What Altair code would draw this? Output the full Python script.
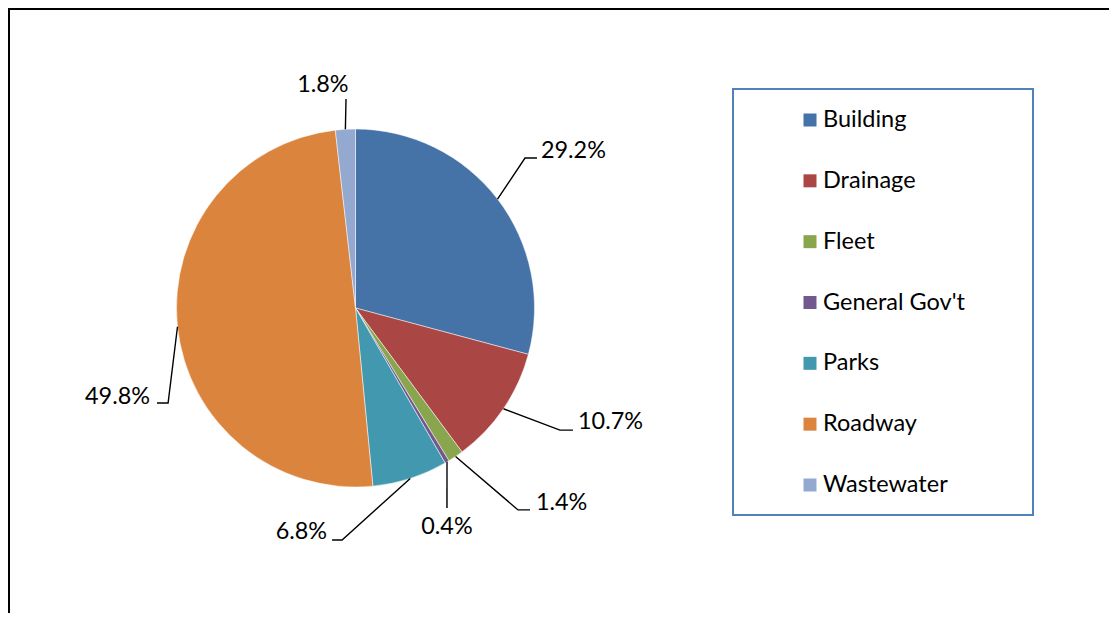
import numpy as np
import pandas as pd
import altair as alt

# ---------------- data ----------------
categories = ["Building", "Drainage", "Fleet", "General Gov't", "Parks", "Roadway", "Wastewater"]
shares = [29.2, 10.7, 1.4, 0.4, 6.8, 49.8, 1.8]
colors = ["#4572A7", "#AA4643", "#89A54E", "#71588F", "#4198AF", "#DB843D", "#93A9CF"]

# ---------------- layout ----------------
W, H = 1101, 605
CX, CY, R = 347.5, 300.0, 179.0          # pie centre / radius (px)
FONT = "Lato"
LABEL_SIZE = 23.4
LEGEND_SIZE = 23.5

# label placement in pie-radius units (u to the right, v upward from centre)
elbow_u = [0.947, 1.142, 0.908, 0.511, -0.075, -1.047, -0.053]
elbow_v = [0.838, -0.682, -1.128, -1.117, -1.296, -0.531, 1.168]
end_u = [1.014, 1.215, 0.975, 0.511, -0.131, -1.109, -0.053]
text_u = [1.036, 1.243, 1.008, 0.511, -0.159, -1.148, -0.182]
text_v = [0.877, -0.637, -1.089, -1.223, -1.251, -0.497, 1.246]
text_align = ["left", "left", "left", "center", "right", "right", "center"]

# ---------------- tables ----------------
slices = pd.DataFrame({"cat": categories, "share": shares, "idx": range(len(categories))})
total = float(sum(shares))
cum = np.concatenate([[0.0], np.cumsum(shares)])
mid = (cum[:-1] + np.array(shares) / 2.0) / total * 2 * np.pi

rows = []
for i, c in enumerate(categories):
    rows.append({"cat": c, "seq": 0, "u": float(np.sin(mid[i])), "v": float(np.cos(mid[i]))})
    rows.append({"cat": c, "seq": 1, "u": elbow_u[i], "v": elbow_v[i]})
    rows.append({"cat": c, "seq": 2, "u": end_u[i], "v": elbow_v[i]})
leaders = pd.DataFrame(rows)

labels = pd.DataFrame({
    "cat": categories,
    "label": [f"{s:.1f}%" for s in shares],
    "u": text_u, "v": text_v, "align": text_align,
})

xs = alt.Scale(domain=[-CX / R, (W - CX) / R], nice=False, zero=False)
ys = alt.Scale(domain=[(CY - H) / R, CY / R], nice=False, zero=False)
color = alt.Color("cat:N", scale=alt.Scale(domain=categories, range=colors), legend=None)

one = pd.DataFrame({"a": [0]})

border_top = alt.Chart(one).mark_rule(color="black", strokeWidth=2).encode(
    x=alt.value(0), x2=alt.value(W), y=alt.value(1))
border_left = alt.Chart(one).mark_rule(color="black", strokeWidth=2).encode(
    x=alt.value(1), y=alt.value(0), y2=alt.value(H))

pie = alt.Chart(slices).mark_arc(radius=R, stroke="white", strokeWidth=0.5).encode(
    theta=alt.Theta("share:Q", stack=True),
    order=alt.Order("idx:Q"),
    color=color,
    x=alt.value(CX), y=alt.value(CY),
)

lines = alt.Chart(leaders).mark_line(color="black", strokeWidth=1.4).encode(
    x=alt.X("u:Q", scale=xs, axis=None),
    y=alt.Y("v:Q", scale=ys, axis=None),
    detail="cat:N",
    order="seq:Q",
)

text_layers = []
for a in ["left", "center", "right"]:
    text_layers.append(
        alt.Chart(labels).transform_filter(alt.datum.align == a).mark_text(
            font=FONT, fontSize=LABEL_SIZE, align=a, baseline="middle", color="black"
        ).encode(
            x=alt.X("u:Q", scale=xs, axis=None),
            y=alt.Y("v:Q", scale=ys, axis=None),
            text="label:N",
        )
    )

legend_box = alt.Chart(one).mark_rect(fill=None, stroke="#4F81BD", strokeWidth=2).encode(
    x=alt.value(725), x2=alt.value(1025), y=alt.value(81), y2=alt.value(507))

ly = alt.Y("cat:N", scale=alt.Scale(type="point", domain=categories, range=[112, 477], padding=0), axis=None)
legend_sym = alt.Chart(slices).mark_square(size=169, opacity=1).encode(
    x=alt.value(802), y=ly, color=color)
legend_txt = alt.Chart(slices).mark_text(
    font=FONT, fontSize=LEGEND_SIZE, align="left", baseline="middle", color="black"
).encode(x=alt.value(815), y=ly, text="cat:N")

chart = alt.layer(
    border_top, border_left, pie, lines, *text_layers, legend_box, legend_sym, legend_txt
).resolve_scale(y="independent").properties(
    width=W, height=H, padding=0, autosize="none"
).configure_view(stroke=None)

chart.save("out.html", embed_options={"renderer": "svg", "actions": False})
